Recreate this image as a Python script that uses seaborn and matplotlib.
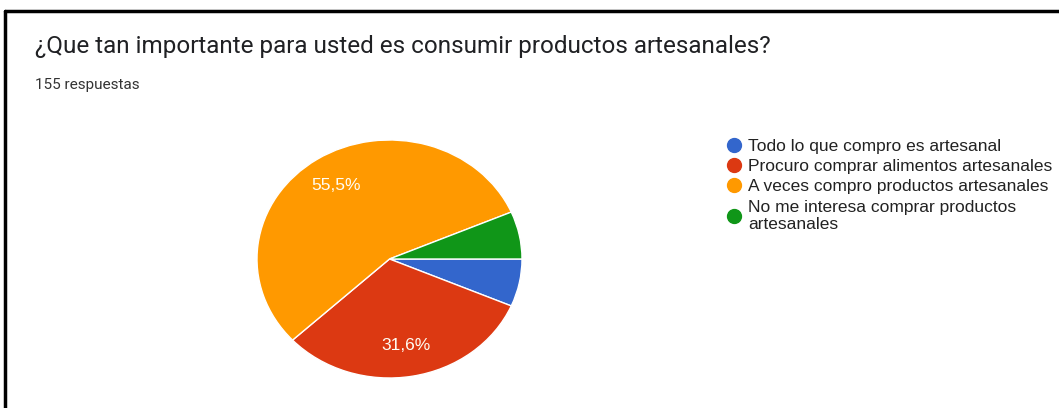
import matplotlib
matplotlib.use("Agg")
import matplotlib.pyplot as plt
from matplotlib.lines import Line2D
import seaborn as sns

# Survey answers (counts out of 155 responses)
categories = [
    "Todo lo que compro es artesanal",
    "Procuro comprar alimentos artesanales",
    "A veces compro productos artesanales",
    "No me interesa comprar productos\nartesanales",
]
counts = [10, 49, 86, 10]
colors = ["#3366cc", "#dc3912", "#ff9900", "#109618"]

title = "¿Que tan importante para usted es consumir productos artesanales?"
subtitle = "155 respuestas"

sns.set_theme(style="white")
plt.rcParams["font.family"] = ["Roboto", "DejaVu Sans"]

W, H = 1059, 408
fig = plt.figure(figsize=(W / 100, H / 100), dpi=100)
fig.patch.set_facecolor("white")

# Pie axes box in pixels (slightly wider than tall)
left, right, top, bottom = 257, 522, 140, 378
ax = fig.add_axes([left / W, (H - bottom) / H, (right - left) / W, (bottom - top) / H])


def pct_label(p):
    if p < 10:
        return ""
    return f"{p:.1f}%".replace(".", ",")


wedges, texts, autotexts = ax.pie(
    counts,
    colors=colors,
    startangle=0,
    counterclock=False,
    autopct=pct_label,
    pctdistance=0.74,
    wedgeprops=dict(edgecolor="white", linewidth=1),
    textprops=dict(color="#fffdf5", fontsize=12.5, family=["Liberation Sans", "DejaVu Sans"]),
)
ax.set_xlim(-1, 1)
ax.set_ylim(-1, 1)
ax.set_aspect("auto")
ax.axis("off")

# Header texts
fig.text(35 / W, 1 - 47 / H, title, fontsize=17.5, color="#202124", va="center", ha="left")
fig.text(35 / W, 1 - 85 / H, subtitle, fontsize=11, color="#333333", va="center", ha="left")

# Legend with round markers
handles = [
    Line2D([], [], marker="o", linestyle="", markersize=10, markerfacecolor=c, markeredgecolor=c)
    for c in colors
]
fig.legend(
    handles,
    categories,
    loc="upper left",
    bbox_to_anchor=(708 / W, 1 - 123 / H),
    frameon=False,
    prop=dict(family=["Liberation Sans", "DejaVu Sans"], size=12.5),
    handletextpad=0.2,
    labelspacing=0.3,
    handlelength=1.2,
    labelcolor="#222222",
)

# Panel frame (left and top edges)
fig.add_artist(Line2D([5 / W, 5 / W], [0, 1 - 11 / H], transform=fig.transFigure, color="black", linewidth=2.5))
fig.add_artist(Line2D([5 / W, 1], [1 - 11 / H, 1 - 11 / H], transform=fig.transFigure, color="black", linewidth=2.5))

fig.savefig("out.png", dpi=100, facecolor="white")
